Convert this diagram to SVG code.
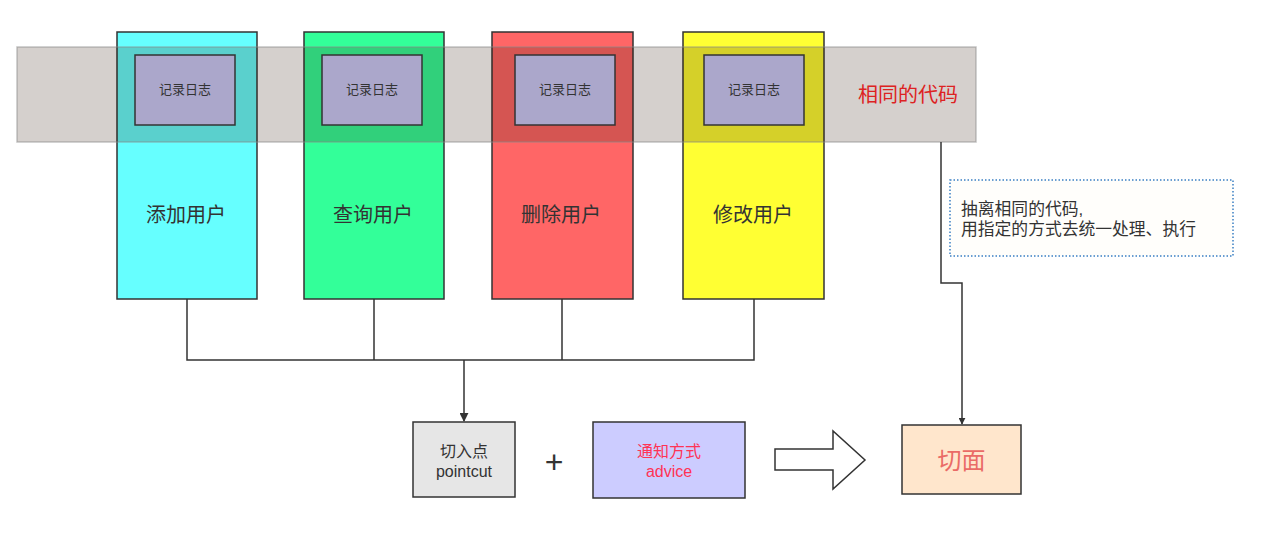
<svg xmlns="http://www.w3.org/2000/svg" width="1264" height="558" viewBox="0 0 1264 558">
<defs>
<style>
text{font-family:"Liberation Sans","Noto Sans CJK SC",sans-serif;}
.col{stroke:#333;stroke-width:1.5;}
.log{fill:#aba7cb;stroke:#333;stroke-width:1.5;}
.logt{font-size:13px;fill:#333;text-anchor:middle;}
.colt{font-size:20px;fill:#333;text-anchor:middle;}
.conn{fill:none;stroke:#333;stroke-width:1.5;}
.bt{font-size:16px;text-anchor:middle;}
</style>
<marker id="ah" viewBox="0 0 10 10" refX="9" refY="5" markerWidth="7" markerHeight="7" markerUnits="userSpaceOnUse" orient="auto">
<path d="M0,0 L10,5 L0,10 Z" fill="#333"/>
</marker>
<marker id="ah2" viewBox="0 0 10 10" refX="9" refY="5" markerWidth="9" markerHeight="9" orient="auto" markerUnits="userSpaceOnUse">
<path d="M0,0 L10,5 L0,10 Z" fill="#333"/>
</marker>
</defs>
<rect width="1264" height="558" fill="#fff"/>
<g id="col-add"><rect class="col" x="117" y="32" width="140" height="267" fill="#66ffff"/></g>
<g id="col-query"><rect class="col" x="304" y="32" width="140" height="267" fill="#33ff99"/></g>
<g id="col-delete"><rect class="col" x="492" y="32" width="141" height="267" fill="#ff6666"/></g>
<g id="col-modify"><rect class="col" x="683" y="32" width="141" height="267" fill="#ffff33"/></g>
<g id="band">
<rect x="17" y="47" width="959" height="95" fill="#2d1405" fill-opacity="0.2" stroke="#888" stroke-opacity="0.5" stroke-width="1.5"/>
<text x="908" y="102" font-size="20" fill="#dd2222" text-anchor="middle">相同的代码</text>
</g>
<g id="log1"><rect class="log" x="135" y="55" width="100" height="70"/><text class="logt" x="185" y="94">记录日志</text></g>
<g id="log2"><rect class="log" x="322" y="55" width="100" height="70"/><text class="logt" x="372" y="94">记录日志</text></g>
<g id="log3"><rect class="log" x="515" y="55" width="100" height="70"/><text class="logt" x="565" y="94">记录日志</text></g>
<g id="log4"><rect class="log" x="704" y="55" width="100" height="70"/><text class="logt" x="754" y="94">记录日志</text></g>
<g id="labels">
<text class="colt" x="186" y="222">添加用户</text>
<text class="colt" x="373" y="222">查询用户</text>
<text class="colt" x="561" y="222">删除用户</text>
<text class="colt" x="753" y="222">修改用户</text>
</g>
<g id="connectors">
<path class="conn" d="M187,299 V360 H754 V299 M374,299 V360 M562,299 V360"/>
<path class="conn" d="M464,360 V421" stroke-width="2" marker-end="url(#ah2)"/>
<path class="conn" d="M941,142 V283 H962 V424" marker-end="url(#ah)"/>
</g>
<g id="note">
<rect x="950" y="180" width="283" height="76" fill="#fffefb" stroke="#3a7fc4" stroke-width="1.5" stroke-dasharray="1.5,2"/>
<text x="961" y="214.5" font-size="16.8" fill="#333">抽离相同的代码,</text>
<text x="961" y="234.5" font-size="16.8" fill="#333">用指定的方式去统一处理、执行</text>
</g>
<g id="pointcut">
<rect x="413" y="422" width="102" height="75" fill="#e6e6e6" stroke="#333" stroke-width="1.5"/>
<text class="bt" x="464" y="457" fill="#333">切入点</text>
<text class="bt" x="464" y="477" fill="#333">pointcut</text>
</g>
<g id="plus"><text x="554" y="473" font-size="32" fill="#333" text-anchor="middle">+</text></g>
<g id="advice">
<rect x="593" y="422" width="152" height="76" fill="#ccccff" stroke="#333" stroke-width="1.5"/>
<text class="bt" x="669" y="457" fill="#ff3355">通知方式</text>
<text class="bt" x="669" y="477" fill="#ff3355">advice</text>
</g>
<g id="big-arrow">
<path d="M775,449 H833 V431 L865,460 L833,489 V470 H775 Z" fill="#fff" stroke="#333" stroke-width="1.5"/>
</g>
<g id="aspect">
<rect x="902" y="425" width="119" height="69" fill="#ffe6cc" stroke="#333" stroke-width="1.5"/>
<text x="961.5" y="469" font-size="24" fill="#ea6b66" text-anchor="middle">切面</text>
</g>
</svg>
